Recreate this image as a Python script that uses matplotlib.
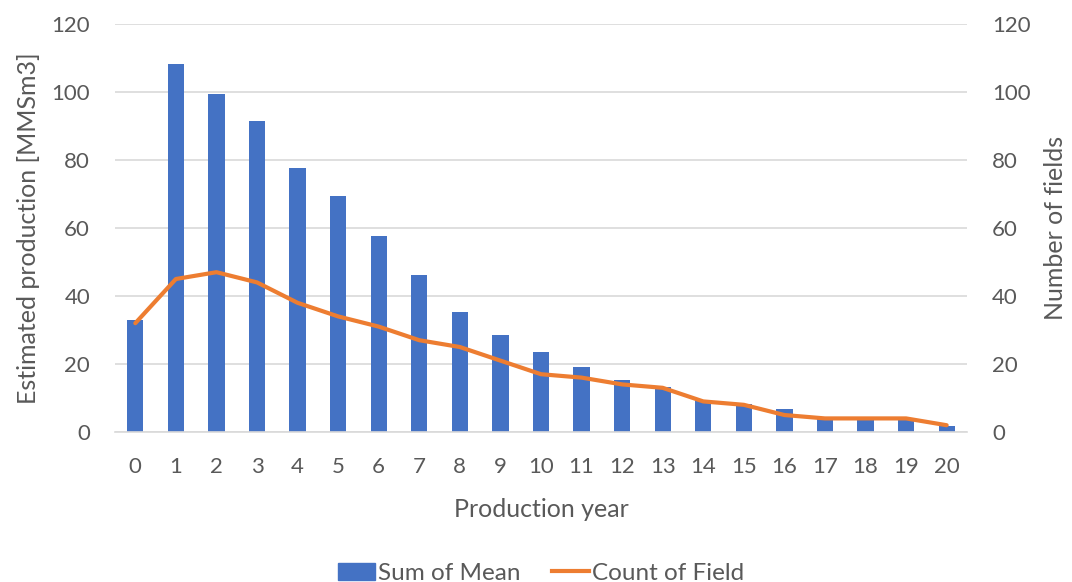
import matplotlib
matplotlib.use('agg')
import matplotlib.pyplot as plt
from matplotlib.patches import Patch
from matplotlib.lines import Line2D

# data
years = list(range(21))
sum_of_mean = [32.8, 108.3, 99.5, 91.4, 77.7, 69.5, 57.6, 46.1, 35.4, 28.6,
               23.5, 19.2, 15.4, 13.2, 9.5, 8.1, 6.9, 3.9, 3.9, 3.9, 1.8]
count_of_field = [32, 45, 47, 44, 38, 34, 31, 27, 25, 21,
                  17, 16, 14, 13, 9, 8, 5, 4, 4, 4, 2]
yticks = [0, 20, 40, 60, 80, 100, 120]

BLUE = '#4472C4'
ORANGE = '#ED7D31'
GREY = '#595959'

plt.rcParams['font.family'] = ['Lato', 'DejaVu Sans']

fig = plt.figure(figsize=(10.72, 5.82), dpi=100)
ax = fig.add_axes([0.1073, 0.2577, 0.7947, 0.7011])
ax2 = ax.twinx()

ax.bar(years, sum_of_mean, width=0.4, color=BLUE, zorder=2)
ax2.plot(years, count_of_field, color=ORANGE, lw=3, solid_joinstyle='round',
         solid_capstyle='round', zorder=3)

for a in (ax, ax2):
    a.set_ylim(0, 120)
    a.set_yticks(yticks)
    a.tick_params(axis='both', length=0, labelsize=16, colors=GREY, pad=18)
    for s in a.spines.values():
        s.set_visible(False)

ax.set_xlim(-0.5, 20.5)
ax.set_xticks(years)
ax.tick_params(axis='x', pad=18)
ax.yaxis.grid(True, color='#D9D9D9', lw=1.2, zorder=0)
ax.set_axisbelow(True)
ax.spines['bottom'].set_visible(True)
ax.spines['bottom'].set_color('#D9D9D9')
ax.spines['bottom'].set_linewidth(1.2)

ax.set_xlabel('Production year', fontsize=18, color=GREY, labelpad=15)
ax.set_ylabel('Estimated production [MMSm3]', fontsize=18, color=GREY, labelpad=8)
ax2.set_ylabel('Number of fields', fontsize=18, color=GREY, labelpad=10)

handles = [Patch(color=BLUE, label='Sum of Mean'),
           Line2D([], [], color=ORANGE, lw=3, label='Count of Field')]
fig.legend(handles=handles, loc='center', bbox_to_anchor=(0.505, 0.015), ncol=2,
           frameon=False, fontsize=17.5, labelcolor=GREY, handlelength=1.5,
           handletextpad=0.15, columnspacing=1.3)

fig.savefig('out.png', dpi=100)
